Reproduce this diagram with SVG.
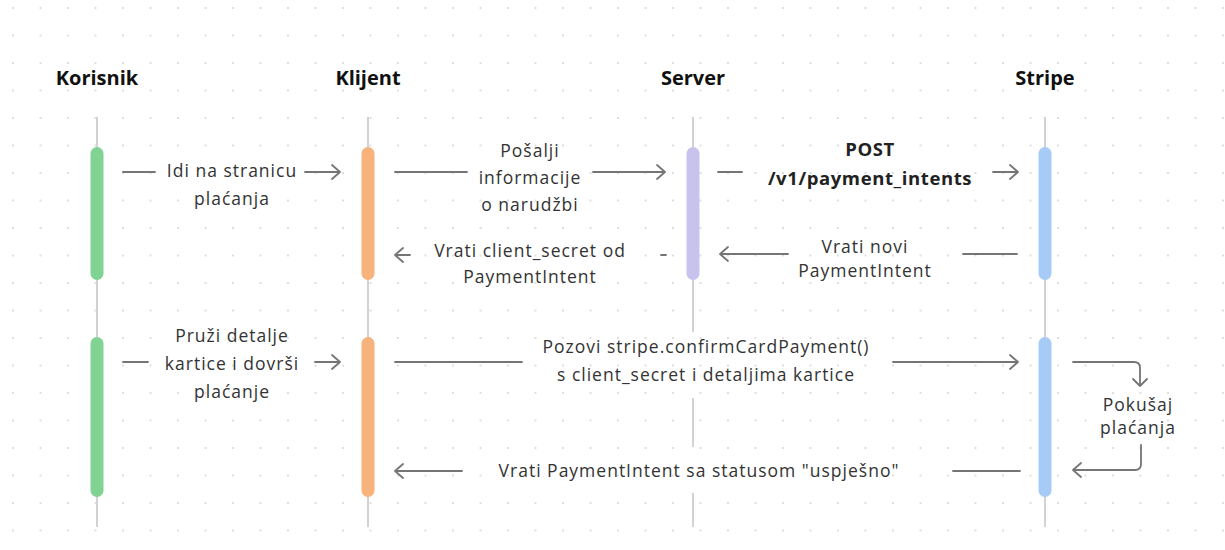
<svg xmlns="http://www.w3.org/2000/svg" width="1225" height="550" viewBox="0 0 1225 550">
<defs>
<pattern id="dots" x="-0.75" y="-5.75" width="27.5" height="27.5" patternUnits="userSpaceOnUse">
<circle cx="13.75" cy="13.75" r="1.1" fill="#d6d6d6"/>
</pattern>
<style>
.hdr{font-family:"Open Sans","Liberation Sans",sans-serif;font-weight:700;font-size:20px;fill:#111;text-anchor:middle}
.lbl{font-family:"Open Sans","Liberation Sans",sans-serif;font-size:17.5px;fill:#333;text-anchor:middle;letter-spacing:1px}
.blbl{font-family:"Open Sans","Liberation Sans",sans-serif;font-weight:700;font-size:18.5px;fill:#222;text-anchor:middle;letter-spacing:0.6px}
.life{stroke:#d2d2d2;stroke-width:2;fill:none}
.msg{stroke:#757575;stroke-width:1.8;fill:none;stroke-linecap:round;stroke-linejoin:round}
</style>
</defs>
<rect width="1225" height="550" fill="#ffffff"/>
<rect width="1225" height="550" fill="url(#dots)"/>

<g id="korisnik">
<text class="hdr" x="97" y="85">Korisnik</text>
<line class="life" x1="97" y1="117" x2="97" y2="527"/>
<rect x="90.5" y="147" width="13" height="133" rx="6.5" fill="#80d392"/>
<rect x="90.5" y="337" width="13" height="160" rx="6.5" fill="#80d392"/>
</g>
<g id="klijent">
<text class="hdr" x="368" y="85">Klijent</text>
<line class="life" x1="368" y1="117" x2="368" y2="527"/>
<rect x="361.5" y="147" width="13" height="133" rx="6.5" fill="#f8b27b"/>
<rect x="361.5" y="337" width="13" height="160" rx="6.5" fill="#f8b27b"/>
</g>
<g id="server">
<text class="hdr" x="693" y="85">Server</text>
<path class="life" d="M693,117 V147 M693,280 V332 M693,398 V447 M693,493 V527"/>
<rect x="686.5" y="147" width="13" height="133" rx="6.5" fill="#c8c2ef"/>
</g>
<g id="stripe">
<text class="hdr" x="1045" y="85">Stripe</text>
<line class="life" x1="1045" y1="117" x2="1045" y2="527"/>
<rect x="1038.5" y="147" width="13" height="133" rx="6.5" fill="#a5cbf6"/>
<rect x="1038.5" y="337" width="13" height="160" rx="6.5" fill="#a5cbf6"/>
</g>

<g id="connectors">
<path class="msg" d="M123,172 H155 M305,172 H340 M332,165 L340,172 L332,179"/>
<path class="msg" d="M395,172 H467 M593,172 H665 M657,165 L665,172 L657,179"/>
<path class="msg" d="M718,172 H742 M993,172 H1018 M1010,165 L1018,172 L1010,179"/>
<path class="msg" d="M963,254 H1017 M720,254 H788 M728,247 L720,254 L728,261"/>
<path class="msg" d="M395,255 H410 M403,248 L395,255 L403,262 M661,255 H666"/>
<path class="msg" d="M123,362 H148 M315,362 H340 M332,355 L340,362 L332,369"/>
<path class="msg" d="M395,362 H522 M893,362 H1018 M1010,355 L1018,362 L1010,369"/>
<path class="msg" d="M1073,362 H1134 Q1140,362 1140,368 V386 M1133,379 L1140,386 L1147,379"/>
<path class="msg" d="M1141,445 V464 Q1141,470 1135,470 H1073 M1081,463 L1073,470 L1081,477"/>
<path class="msg" d="M953,471 H1020 M395,471 H462 M403,464 L395,471 L403,478"/>
</g>

<g id="labels">
<text class="lbl" x="232" y="177">Idi na stranicu</text>
<text class="lbl" x="232" y="205">plaćanja</text>
<text class="lbl" x="530" y="157">Pošalji</text>
<text class="lbl" x="530" y="184">informacije</text>
<text class="lbl" x="530" y="211">o narudžbi</text>
<text class="blbl" x="870" y="156">POST</text>
<text class="blbl" x="870" y="185">/v1/payment_intents</text>
<text class="lbl" x="865" y="253">Vrati novi</text>
<text class="lbl" x="865" y="277">PaymentIntent</text>
<text class="lbl" x="530" y="257">Vrati client_secret od</text>
<text class="lbl" x="530" y="283">PaymentIntent</text>
<text class="lbl" x="232" y="342">Pruži detalje</text>
<text class="lbl" x="232" y="370">kartice i dovrši</text>
<text class="lbl" x="232" y="398">plaćanje</text>
<text class="lbl" x="706" y="353">Pozovi stripe.confirmCardPayment()</text>
<text class="lbl" x="706" y="381">s client_secret i detaljima kartice</text>
<text class="lbl" x="1138" y="411">Pokušaj</text>
<text class="lbl" x="1138" y="434">plaćanja</text>
<text class="lbl" x="699" y="477">Vrati PaymentIntent sa statusom "uspješno"</text>
</g>
</svg>
